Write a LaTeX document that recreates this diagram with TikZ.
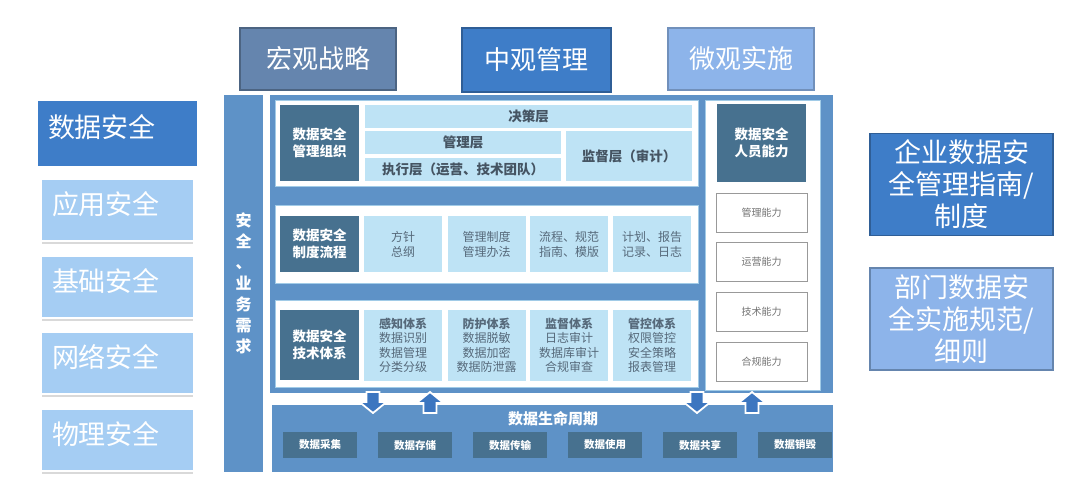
\documentclass[tikz,border=0pt]{standalone}
\usepackage{fontspec}
\setmainfont{Noto Sans CJK SC}
\usetikzlibrary{positioning}

\definecolor{frameblue}{HTML}{5E92C7}
\definecolor{midblue}{HTML}{3E7DC8}
\definecolor{paleblue}{HTML}{8DB4EA}
\definecolor{slateblue}{HTML}{6585AE}
\definecolor{darkslate}{HTML}{47718F}
\definecolor{cellblue}{HTML}{BEE3F5}
\definecolor{sideblue}{HTML}{A5CDF3}
\definecolor{celltext}{HTML}{56697A}
\definecolor{arrowblue}{HTML}{3C76C0}

\def\fsz#1#2{\fontsize{#1}{#2}\selectfont}

\tikzset{
  box/.style={inner sep=0, outer sep=0, align=center},
  topbox/.style={box, line width=1.5, text=white, font=\fsz{26}{30}},
  sidebox/.style={box, minimum width=151, minimum height=60, fill=sideblue, text=white,
    font=\fsz{27}{30}, text width=131, align=left, text depth=14},
  guidebox/.style={box, minimum width=183, minimum height=102, line width=1.5, text=white,
    font=\fsz{27}{32}},
  panel/.style={fill=white, draw=cellblue!70!frameblue, line width=0.8},
  darkbox/.style={box, fill=darkslate, text=white, font=\bfseries\fsz{13.5}{17}},
  cellbox/.style={box, fill=cellblue, text=celltext, font=\fsz{12}{15}},
  layerbox/.style={box, fill=cellblue, text=celltext!80!black, font=\bfseries\fsz{13.5}{16}},
  skillbox/.style={box, draw=gray!80, line width=0.8, minimum width=91, minimum height=39,
    text=gray!90!black, font=\fsz{10}{12}},
  lifebox/.style={box, fill=darkslate, minimum width=74, minimum height=26, text=white,
    font=\bfseries\fsz{10.5}{12}},
  arrowbody/.style={fill=arrowblue, draw=white, line width=1.8, line join=miter},
  dnarrow/.pic={\draw[arrowbody] (-6.5,0) -- (-6.5,10) -- (-13.5,10) -- (0,21)
    -- (13.5,10) -- (6.5,10) -- (6.5,0) -- cycle;},
  uparrow/.pic={\draw[arrowbody] (-6.5,0) -- (-6.5,-10) -- (-13.5,-10) -- (0,-21)
    -- (13.5,-10) -- (6.5,-10) -- (6.5,0) -- cycle;}
}

\begin{document}
\begin{tikzpicture}[x=1pt, y=-1pt]
  \useasboundingbox (0,0) rectangle (1080,488);
  \fill[white] (0,0) rectangle (1080,488);

  %%%%% top row %%%%%
  \node[topbox, fill=slateblue, draw=slateblue!75!black, minimum width=156, minimum height=62]
    (macro) at (318,59) {宏观战略};
  \node[topbox, fill=midblue, draw=midblue!75!black, minimum width=149, minimum height=64]
    (meso) at (536.5,60) {中观管理};
  \node[topbox, fill=paleblue, draw=paleblue!80!black, minimum width=146, minimum height=62]
    (micro) at (741,59) {微观实施};

  %%%%% left column %%%%%
  \node[sidebox, fill=midblue, minimum width=159, minimum height=65, text width=139]
    (datasec) at (117.5,133.5) {数据安全};
  \foreach \name/\txt/\yy in {app/应用安全/210, base/基础安全/287, net/网络安全/363, phys/物理安全/440} {
    \node[sidebox] (\name) at (117.5,\yy) {\txt};
    \draw[gray!30, line width=2] ([yshift=-3]\name.south west) -- ([yshift=-3]\name.south east);
  }

  %%%%% right column %%%%%
  \node[guidebox, fill=midblue, draw=midblue!75!black] (guide) at (961.5,184.5)
    {企业数据安\\全管理指南/\\制度};
  \node[guidebox, fill=paleblue, draw=slateblue] (spec) at (961.5,319)
    {部门数据安\\全实施规范/\\细则};

  %%%%% frame %%%%%
  \node[box, fill=frameblue, minimum width=39, minimum height=377, text=white,
    font=\bfseries\fsz{16}{21}] (need) at (243.5,283.5) {安\\全\\、\\业\\务\\需\\求};
  \fill[frameblue] (270,95) rectangle (833,393);
  \draw[panel] (275,100) rectangle (698,186);
  \draw[panel] (275,205) rectangle (698,283);
  \draw[panel] (275,300) rectangle (698,387);
  \draw[panel] (705,100) rectangle (820,390);

  % organisation
  \node[darkbox, minimum width=79, minimum height=76] (org) at (319.5,143) {数据安全\\管理组织};
  \node[layerbox, minimum width=327, minimum height=23] (decide) at (528.5,116.5) {决策层};
  \node[layerbox, minimum width=196, minimum height=23] (manage) at (463,142.5) {管理层};
  \node[layerbox, minimum width=196, minimum height=23] (execute) at (463,169.5) {执行层（运营、技术团队）};
  \node[layerbox, minimum width=126, minimum height=50] (audit) at (629,156) {监督层（审计）};

  % process
  \node[darkbox, minimum width=79, minimum height=56] (proc) at (319.5,244) {数据安全\\制度流程};
  \foreach \i/\xx/\txt in {1/403/{方针\\总纲}, 2/486.5/{管理制度\\管理办法},
      3/569/{流程、规范\\指南、模版}, 4/652/{计划、报告\\记录、日志}} {
    \node[cellbox, minimum width=78, minimum height=56] (proc\i) at (\xx,244) {\txt};
  }

  % technology
  \node[darkbox, minimum width=79, minimum height=70] (tech) at (319.5,345) {数据安全\\技术体系};
  \foreach \i/\xx/\txt in {1/403/{\textbf{感知体系}\\数据识别\\数据管理\\分类分级},
      2/486.5/{\textbf{防护体系}\\数据脱敏\\数据加密\\数据防泄露},
      3/569/{\textbf{监督体系}\\日志审计\\数据库审计\\合规审查},
      4/652/{\textbf{管控体系}\\权限管控\\安全策略\\报表管理}} {
    \node[cellbox, minimum width=78, minimum height=71, font=\fsz{12}{14.5}] (tech\i) at (\xx,345.5) {\txt};
  }

  % people
  \node[darkbox, minimum width=89, minimum height=78] (staff) at (761.5,143) {数据安全\\人员能力};
  \foreach \i/\yy/\txt in {1/212.5/管理能力, 2/261.5/运营能力, 3/311.5/技术能力, 4/361.5/合规能力} {
    \node[skillbox] (skill\i) at (761.5,\yy) {\txt};
  }

  %%%%% life cycle %%%%%
  \node[box, fill=frameblue, minimum width=561, minimum height=67] (life) at (552.5,438.5) {};
  \node[box, text=white, font=\bfseries\fsz{15}{17}] (lifetitle) at (553,419) {数据生命周期};
  \foreach \i/\txt in {0/数据采集, 1/数据存储, 2/数据传输, 3/数据使用, 4/数据共享, 5/数据销毁} {
    \node[lifebox] (stage\i) at (320+95*\i,445) {\txt};
  }

  \pic at (373,392) {dnarrow};
  \pic at (430,413) {uparrow};
  \pic at (697,392) {dnarrow};
  \pic at (752,413) {uparrow};
\end{tikzpicture}
\end{document}
